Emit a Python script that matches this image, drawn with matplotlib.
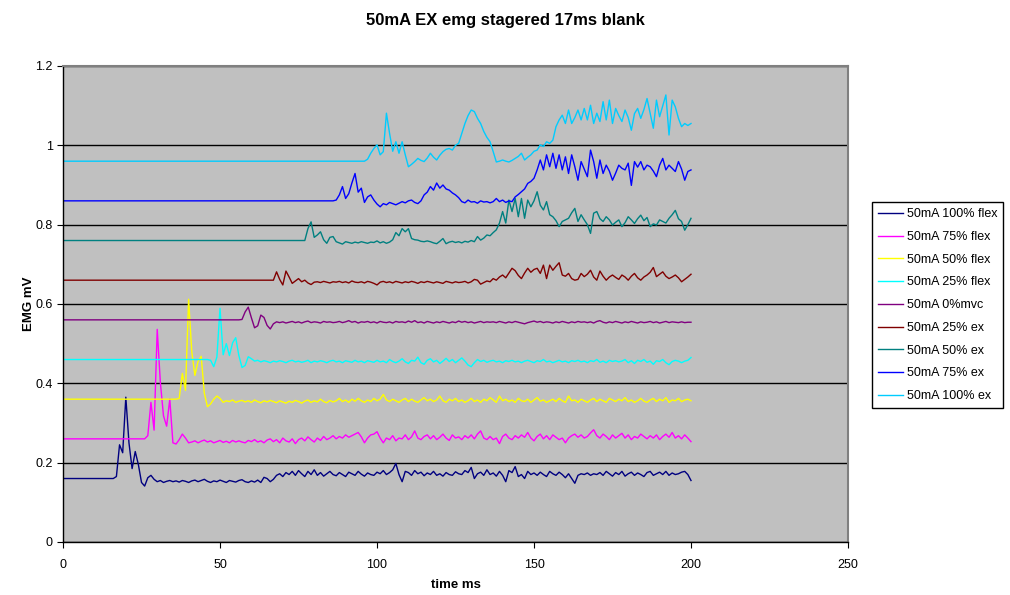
import matplotlib
matplotlib.use('Agg')
import matplotlib.pyplot as plt
import numpy as np

plt.rcParams['font.family'] = ['Liberation Sans', 'DejaVu Sans']

labels = ['50mA 100% flex', '50mA 75% flex', '50mA 50% flex', '50mA 25% flex',
          '50mA 0%mvc', '50mA 25% ex', '50mA 50% ex', '50mA 75% ex', '50mA 100% ex']
colors = ['#000080', '#FF00FF', '#FFFF00', '#00FFFF', '#800080',
          '#800000', '#008080', '#0000FF', '#00CCFF']

# flat (blanked) level before each trace starts, in uV, and start time in ms
baseline_uv = [160, 260, 360, 460, 560, 660, 760, 860, 960]
onset_ms = [17, 27, 37, 47, 57, 67, 77, 87, 97]

# EMG after the blank, 1 ms steps up to 200 ms, in uV (staggered by 100 uV)
flex100 = [
    165, 245, 225, 365, 250, 185, 228, 195, 150, 141,
    162, 168, 158, 152, 155, 150, 153, 155, 152, 154,
    151, 155, 153, 150, 154, 156, 152, 155, 158, 153,
    150, 154, 152, 156, 153, 150, 155, 153, 151, 155,
    157, 152, 150, 154, 151, 156, 150, 163, 160, 152,
    158, 168, 172, 165, 175, 170, 178, 168, 180, 172,
    165, 178, 170, 182, 168, 175, 166, 172, 178, 170,
    167, 175, 170, 165, 176, 172, 168, 178, 171, 166,
    174, 170, 168, 176, 172, 180, 170, 175, 182, 198,
    170, 152, 178, 175, 168, 180, 172, 176, 167, 174,
    170, 178, 168, 172, 166, 175, 170, 168, 177, 172,
    170, 180, 175, 188, 160, 172, 176, 168, 182, 170,
    174, 166, 178, 168, 152, 180, 175, 190, 165, 170,
    160, 178, 170, 174, 168, 176, 170, 165, 178, 172,
    168, 176, 170, 162, 172, 160, 148, 168, 172, 170,
    174, 168, 172, 170, 175, 168, 178, 172, 166, 175,
    170, 178, 166, 172, 176, 168, 174, 170, 165, 175,
    178, 168, 172, 176, 170, 178, 168, 174, 170, 172,
    176, 178, 170, 155]

flex75 = [
    268, 352, 282, 536, 402, 318, 292, 360, 250, 247,
    258, 272, 262, 250, 252, 255, 250, 254, 257, 252,
    255, 250, 253, 256, 251, 254, 250, 256, 252, 255,
    252, 250, 256, 253, 258, 252, 255, 250, 257, 260,
    253, 258, 250, 262, 255, 252, 260, 248, 258, 262,
    255, 265, 258, 252, 262, 256, 266, 258, 262, 268,
    260, 266, 262, 270, 264, 268, 272, 276, 265, 250,
    262, 270, 272, 278, 262, 250, 262, 258, 268, 255,
    262, 260, 270, 258, 265, 280, 262, 258, 266, 270,
    260, 268, 258, 264, 272, 262, 256, 270, 262, 265,
    258, 268, 262, 270, 260, 272, 280, 262, 258, 266,
    258, 262, 248, 266, 272, 262, 258, 268, 262, 270,
    264, 276, 262, 255, 266, 272, 260, 268, 258, 270,
    264, 258, 262, 250, 262, 268, 272, 264, 270, 262,
    266, 275, 283, 268, 262, 272, 266, 258, 270, 262,
    268, 274, 262, 270, 258, 266, 262, 272, 266, 260,
    268, 262, 270, 258, 266, 272, 264, 276, 262, 268,
    260, 270, 262, 253]

flex50 = [
    362, 425, 382, 612, 480, 420, 455, 468, 375, 341,
    348, 360, 368, 362, 352, 356, 354, 358, 352, 355,
    357, 353, 356, 352, 358, 354, 351, 356, 353, 357,
    354, 351, 356, 353, 350, 355, 352, 357, 354, 350,
    355, 358, 352, 356, 353, 360, 354, 351, 357, 353,
    356, 362, 354, 358, 352, 360, 355, 362, 356, 352,
    358, 354, 362, 356, 360, 372, 358, 354, 360, 356,
    352, 358, 362, 354, 360, 355, 352, 358, 364, 356,
    360, 354, 358, 368, 356, 352, 360, 356, 362, 354,
    358, 352, 356, 362, 354, 358, 352, 360, 356, 364,
    358, 352, 368, 356, 360, 354, 358, 352, 362, 356,
    354, 360, 352, 358, 364, 355, 358, 352, 356, 360,
    354, 362, 356, 352, 368, 356, 358, 352, 360, 356,
    352, 358, 362, 354, 360, 356, 352, 362, 358, 354,
    360, 356, 364, 354, 358, 352, 356, 362, 355, 352,
    358, 362, 354, 360, 356, 364, 352, 358, 356, 362,
    354, 358, 360, 356]

flex25 = [
    458, 442, 466, 589, 472, 500, 470, 502, 515, 470,
    440, 445, 467, 462, 456, 458, 454, 457, 455, 452,
    456, 454, 457, 455, 452, 456, 458, 454, 456, 453,
    455, 458, 452, 456, 454, 457, 455, 452, 456, 458,
    454, 456, 452, 457, 455, 453, 458, 454, 456, 452,
    457, 455, 453, 458, 454, 456, 452, 460, 455, 452,
    456, 462, 454, 450, 458, 456, 466, 452, 448, 458,
    462, 454, 458, 450, 456, 463, 455, 460, 452, 458,
    464, 456, 446, 442, 452, 460, 455, 458, 453, 456,
    458, 454, 456, 452, 457, 455, 458, 454, 456, 452,
    456, 458, 455, 452, 457, 455, 460, 454, 456, 452,
    455, 458, 454, 456, 452, 457, 455, 458, 454, 456,
    452, 457, 455, 460, 453, 456, 452, 458, 455, 457,
    454, 456, 460, 452, 457, 450, 458, 455, 460, 453,
    456, 448, 457, 455, 460, 452, 447, 455, 458, 456,
    452, 456, 458, 465]

mvc0 = [
    561, 580, 592, 565, 540, 545, 572, 566, 546, 537,
    550, 555, 553, 555, 552, 554, 556, 553, 555, 552,
    555, 557, 553, 555, 554, 552, 556, 554, 555, 553,
    554, 556, 553, 555, 558, 554, 556, 552, 555, 554,
    556, 553, 555, 552, 556, 554, 553, 555, 552, 556,
    554, 555, 553, 557, 554, 558, 553, 555, 552, 556,
    554, 552, 555, 553, 556, 554, 552, 555, 553, 557,
    554, 556, 553, 555, 552, 554, 556, 553, 555, 554,
    555, 553, 556, 554, 552, 555, 553, 556, 554, 552,
    550, 553, 555, 557, 554, 556, 553, 555, 554, 552,
    555, 553, 556, 554, 552, 555, 553, 556, 554, 555,
    553, 555, 552, 556, 558, 554, 552, 555, 553, 556,
    554, 552, 555, 553, 556, 554, 552, 555, 553, 554,
    556, 553, 555, 552, 554, 556, 553, 555, 554, 553,
    555, 553, 554, 554]

ex25 = [
    660, 681, 662, 648, 683, 668, 652, 658, 664, 656,
    660, 653, 649, 655, 656, 654, 657, 655, 653, 656,
    655, 657, 654, 656, 653, 658, 655, 654, 656, 653,
    657, 655, 652, 648, 655, 657, 654, 656, 653, 657,
    655, 653, 656, 654, 657, 655, 652, 656, 654, 657,
    655, 653, 656, 654, 652, 657, 655, 653, 656, 654,
    655, 657, 653, 656, 662, 660, 650, 654, 658, 656,
    664, 660, 668, 673, 666, 678, 690, 684, 672, 664,
    678, 690, 680, 687, 690, 677, 698, 664, 698, 685,
    695, 704, 673, 670, 677, 664, 660, 662, 677, 669,
    675, 685, 668, 660, 683, 670, 660, 668, 673, 667,
    662, 673, 668, 660, 670, 677, 666, 660, 668, 673,
    680, 692, 669, 675, 681, 670, 664, 668, 673, 666,
    656, 662, 668, 675]

ex50 = [
    760, 790, 807, 768, 774, 782, 762, 753, 768, 770,
    757, 754, 751, 757, 755, 753, 756, 754, 757, 755,
    753, 756, 755, 759, 754, 757, 753, 756, 762, 780,
    772, 790, 782, 790, 765, 762, 761, 758, 757, 759,
    757, 754, 752, 758, 765, 752, 756, 758, 755, 757,
    754, 758, 756, 760, 757, 770, 761, 766, 774, 772,
    780, 787, 804, 833, 804, 862, 833, 866, 820, 866,
    816, 862, 845, 860, 883, 849, 837, 858, 825, 820,
    810, 795, 808, 812, 816, 830, 841, 808, 825, 812,
    800, 778, 829, 833, 815, 808, 820, 812, 799, 806,
    812, 795, 805, 820, 812, 803, 815, 824, 810, 818,
    795, 802, 799, 812, 808, 804, 816, 825, 836, 815,
    808, 786, 800, 816]

ex75 = [
    862, 875, 896, 866, 878, 905, 929, 882, 892, 856,
    870, 875, 862, 852, 845, 853, 850, 856, 853, 850,
    854, 858, 855, 860, 862, 856, 853, 860, 875, 882,
    896, 887, 905, 892, 900, 890, 887, 880, 875, 868,
    858, 855, 862, 857, 858, 854, 860, 857, 858, 855,
    858, 866, 858, 862, 856, 860, 858, 870, 876, 883,
    890, 904, 909, 917, 938, 963, 938, 976, 946, 980,
    942, 976, 938, 971, 929, 976, 946, 912, 959, 940,
    921, 988, 959, 917, 963, 929, 950, 935, 912, 930,
    950, 942, 938, 955, 899, 959, 945, 959, 938, 950,
    946, 935, 921, 950, 967, 938, 950, 942, 934, 959,
    940, 912, 934, 938]

ex100 = [
    965, 980, 992, 1001, 976, 984, 1081, 1030, 985, 1009,
    980, 1009, 976, 946, 952, 959, 967, 962, 959, 968,
    980, 970, 963, 975, 984, 990, 992, 988, 1000, 1005,
    1030, 1055, 1075, 1089, 1085, 1068, 1055, 1035, 1020, 1009,
    984, 958, 960, 963, 960, 958, 962, 967, 972, 980,
    963, 970, 976, 985, 988, 1001, 997, 1009, 1005, 1013,
    1047, 1064, 1076, 1055, 1089, 1055, 1070, 1089, 1064, 1093,
    1064, 1101, 1055, 1081, 1060, 1110, 1064, 1114, 1055, 1093,
    1075, 1060, 1089, 1070, 1038, 1080, 1093, 1068, 1090, 1118,
    1081, 1043, 1114, 1072, 1100, 1127, 1026, 1114, 1097, 1068,
    1047, 1055, 1050, 1055]

traces = [flex100, flex75, flex50, flex25, mvc0, ex25, ex50, ex75, ex100]

fig = plt.figure(figsize=(10.1, 5.95), dpi=100)
ax = fig.add_axes([0.0624, 0.0891, 0.7772, 0.80])
ax.set_facecolor('#C0C0C0')

for vals, base, t0, col, lab in zip(traces, baseline_uv, onset_ms, colors, labels):
    y = np.array([base] * t0 + vals) / 1000.0
    t = np.arange(len(y))
    ax.plot(t, y, color=col, lw=1.0, label=lab)

ax.set_xlim(0, 250)
ax.set_ylim(0, 1.2)
ax.set_xticks([0, 50, 100, 150, 200, 250])
ax.set_yticks([0, 0.2, 0.4, 0.6, 0.8, 1.0, 1.2])
ax.set_yticklabels(['0', '0.2', '0.4', '0.6', '0.8', '1', '1.2'])
ax.tick_params(labelsize=9, direction='out', length=4, width=0.8, colors='black')
ax.tick_params(axis='x', pad=8)
ax.yaxis.grid(True, color='black', lw=1.0)
ax.set_axisbelow(True)
for s in ['top', 'right']:
    ax.spines[s].set_color('#808080')
    ax.spines[s].set_linewidth(1.5)
for s in ['left', 'bottom']:
    ax.spines[s].set_color('black')
    ax.spines[s].set_linewidth(1.0)

ax.set_xlabel('time ms', fontsize=9.5, fontweight='bold', labelpad=6)
ax.set_ylabel('EMG mV', fontsize=9.5, fontweight='bold', labelpad=0)
fig.text(0.5, 0.965, '50mA EX emg stagered 17ms blank', ha='center', va='center',
         fontsize=12, fontweight='bold')

leg = fig.legend(loc='center left', bbox_to_anchor=(0.863, 0.487), fontsize=9,
                 frameon=True, fancybox=False, edgecolor='black', framealpha=1,
                 handlelength=2.0, handletextpad=0.3, labelspacing=0.86,
                 borderpad=0.5, borderaxespad=0)
leg.get_frame().set_linewidth(1.0)

fig.savefig('out.png', dpi=100)
